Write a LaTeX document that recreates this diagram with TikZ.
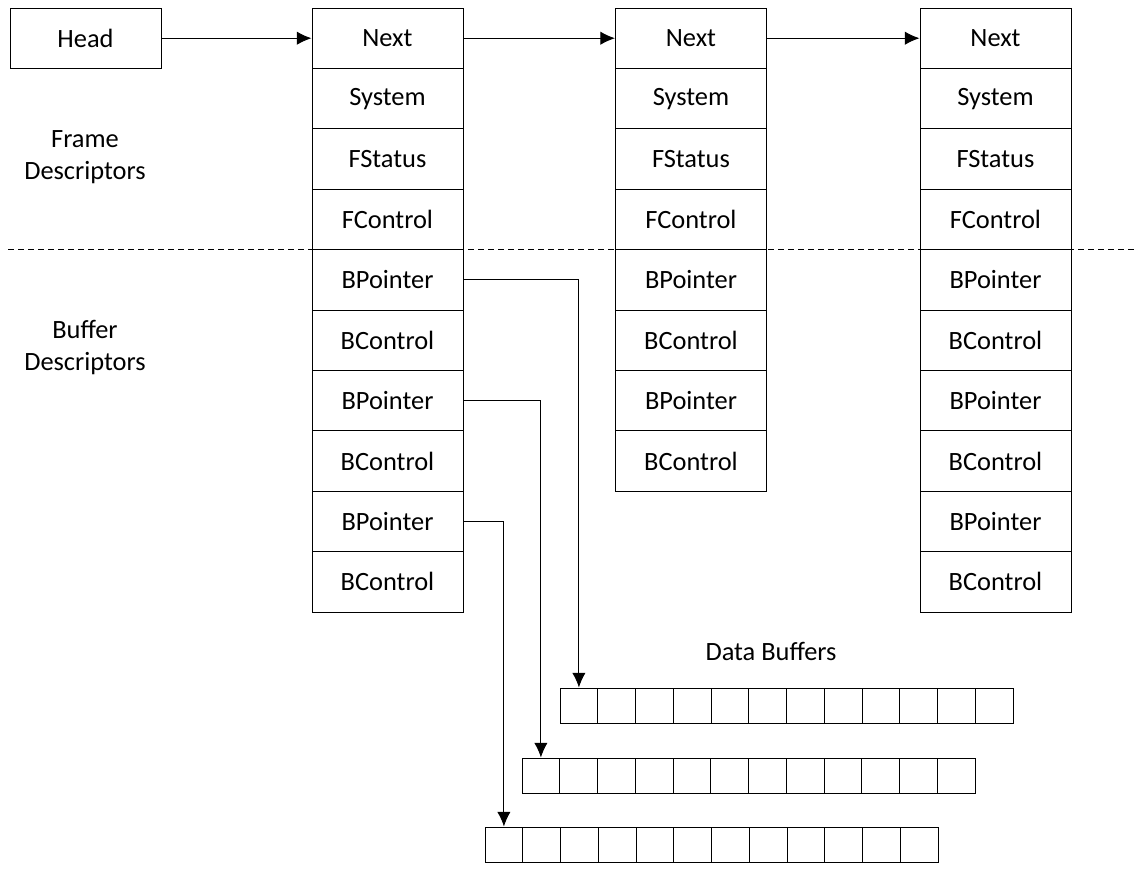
\documentclass[tikz,border=0pt]{standalone}
\usepackage{fontspec}
\setmainfont{Carlito}
\usetikzlibrary{
    arrows.meta,
    positioning
}
\tikzset{
  every path/.style={
    black,
    line width=0.75pt
  },
  every node/.style={
    font=\fontsize{19.8}{24}\selectfont,
    inner sep=1.5pt
  },
  cell/.style={
    draw,
    minimum width=151*0.75pt,
    minimum height=60.4*0.75pt
  },
  slot/.style={
    draw,
    minimum width=37.75*0.75pt,
    minimum height=35*0.75pt
  },
  arr/.style={
    -{Latex[length=11pt,width=10pt]}
  }
}

\begin{document}
\begin{tikzpicture}[x=0.75pt,y=-0.75pt]
    \useasboundingbox (0,0) rectangle (1134,869);
    %-------------------------
    %head
    %-------------------------
    \node[cell,minimum height=60*0.75pt] (head) at (85.5,38.2) {Head};

    \node[align=center] (framelbl) at (85,157) {Frame\\Descriptors};
    \node[align=center] (buflbl) at (85,347) {Buffer\\Descriptors};

    %-------------------------
    %frame 1
    %-------------------------
    \node[cell] (next1) at (387.5,38.2) {Next};
    \node[cell] (sys1) at (387.5,98.6) {System};
    \node[cell] (fst1) at (387.5,159) {FStatus};
    \node[cell] (fctl1) at (387.5,219.4) {FControl};
    \node[cell] (bptr1a) at (387.5,279.8) {BPointer};
    \node[cell] (bctl1a) at (387.5,340.2) {BControl};
    \node[cell] (bptr1b) at (387.5,400.6) {BPointer};
    \node[cell] (bctl1b) at (387.5,461) {BControl};
    \node[cell] (bptr1c) at (387.5,521.4) {BPointer};
    \node[cell] (bctl1c) at (387.5,581.8) {BControl};

    %-------------------------
    %frame 2
    %-------------------------
    \node[cell] (next2) at (691,38.2) {Next};
    \node[cell] (sys2) at (691,98.6) {System};
    \node[cell] (fst2) at (691,159) {FStatus};
    \node[cell] (fctl2) at (691,219.4) {FControl};
    \node[cell] (bptr2a) at (691,279.8) {BPointer};
    \node[cell] (bctl2a) at (691,340.2) {BControl};
    \node[cell] (bptr2b) at (691,400.6) {BPointer};
    \node[cell] (bctl2b) at (691,461) {BControl};

    %-------------------------
    %frame 3
    %-------------------------
    \node[cell] (next3) at (995.5,38.2) {Next};
    \node[cell] (sys3) at (995.5,98.6) {System};
    \node[cell] (fst3) at (995.5,159) {FStatus};
    \node[cell] (fctl3) at (995.5,219.4) {FControl};
    \node[cell] (bptr3a) at (995.5,279.8) {BPointer};
    \node[cell] (bctl3a) at (995.5,340.2) {BControl};
    \node[cell] (bptr3b) at (995.5,400.6) {BPointer};
    \node[cell] (bctl3b) at (995.5,461) {BControl};
    \node[cell] (bptr3c) at (995.5,521.4) {BPointer};
    \node[cell] (bctl3c) at (995.5,581.8) {BControl};

    %divider
    \draw[dash pattern=on 4.5pt off 3pt] (8,249.2) -- (1134,249.2);

    %-------------------------
    %data buffers
    %-------------------------
    \node (datalbl) at (771,651) {Data Buffers};
    \foreach \i in {1,...,12} {
        \node[slot] (bufa\i) at ({578.9+(\i-1)*37.75},705.5) {};
        \node[slot] (bufb\i) at ({540.9+(\i-1)*37.75},775.5) {};
        \node[slot] (bufc\i) at ({503.9+(\i-1)*37.75},844.5) {};
    }

    %links
    \draw[arr] (head) -- (next1);
    \draw[arr] (next1) -- (next2);
    \draw[arr] (next2) -- (next3);
    \draw[arr] (bptr1a.east) -| (bufa1.north);
    \draw[arr] (bptr1b.east) -| (bufb1.north);
    \draw[arr] (bptr1c.east) -| (bufc1.north);

    \end{tikzpicture}
\end{document}
